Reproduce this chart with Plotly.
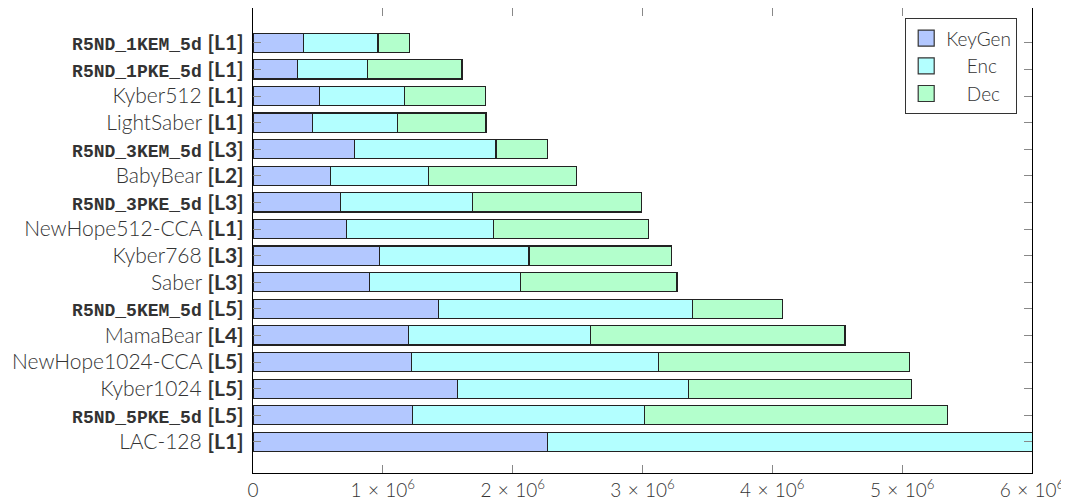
import plotly.graph_objects as go

names = ["R5ND_1KEM_5d", "R5ND_1PKE_5d", "Kyber512", "LightSaber", "R5ND_3KEM_5d",
         "BabyBear", "R5ND_3PKE_5d", "NewHope512-CCA", "Kyber768", "Saber",
         "R5ND_5KEM_5d", "MamaBear", "NewHope1024-CCA", "Kyber1024", "R5ND_5PKE_5d", "LAC-128"]
levels = ["L1", "L1", "L1", "L1", "L3", "L2", "L3", "L1", "L3", "L3",
          "L5", "L4", "L5", "L5", "L5", "L1"]
mono = [True, True, False, False, True, False, True, False, False, False,
        True, False, False, False, True, False]

# cumulative end points
keygen_end = [0.391e6, 0.340e6, 0.512e6, 0.458e6, 0.784e6, 0.595e6, 0.674e6, 0.720e6,
              0.977e6, 0.895e6, 1.429e6, 1.196e6, 1.221e6, 1.576e6, 1.229e6, 2.269e6]
enc_end = [0.962e6, 0.882e6, 1.167e6, 1.111e6, 1.871e6, 1.350e6, 1.689e6, 1.855e6,
           2.125e6, 2.061e6, 3.383e6, 2.600e6, 3.126e6, 3.357e6, 3.014e6, 6.600e6]
dec_end = [1.208e6, 1.609e6, 1.789e6, 1.794e6, 2.267e6, 2.492e6, 2.993e6, 3.049e6,
           3.222e6, 3.265e6, 4.077e6, 4.559e6, 5.058e6, 5.073e6, 5.350e6, 7.500e6]

keygen = keygen_end
enc = [e - k for e, k in zip(enc_end, keygen_end)]
dec = [d - e for d, e in zip(dec_end, enc_end)]

x_tickvals = [0, 1e6, 2e6, 3e6, 4e6, 5e6, 6e6]
x_ticktext = ["0"] + [f"{i}\u2004×\u200410<sup>6</sup>" for i in range(1, 7)]

ticktext = []
for n, l, m in zip(names, levels, mono):
    if m:
        t = (f'<span style="font-family:Liberation Mono;font-weight:bold;font-size:18px">{n}</span>'
             f' <span style="font-weight:bold">[{l}]</span>')
    else:
        t = f'{n} <span style="font-weight:bold">[{l}]</span>'
    ticktext.append(t)

ypos = list(range(len(names)))

fig = go.Figure()
series = [("KeyGen", keygen, "#b3c8ff"), ("Enc", enc, "#b3ffff"), ("Dec", dec, "#b3ffcc")]
legend_labels = ["KeyGen", "\u00a0\u00a0\u00a0\u00a0Enc", "\u00a0\u00a0\u00a0\u00a0Dec"]
for (nm, vals, col), lab in zip(series, legend_labels):
    fig.add_trace(go.Bar(
        x=vals, y=ypos, name=nm, orientation="h", width=0.72, showlegend=False,
        marker=dict(color=col, line=dict(color="#222222", width=1.2)),
    ))
    fig.add_trace(go.Scatter(
        x=[None], y=[None], mode="markers", name=lab, showlegend=True,
        marker=dict(symbol="square", size=16, color=col, line=dict(color="#333333", width=1.2)),
    ))

fig.update_layout(
    barmode="stack",
    width=1061, height=491,
    margin=dict(l=245, r=37, t=0, b=26, autoexpand=False),
    plot_bgcolor="white", paper_bgcolor="white",
    font=dict(family="Lato", size=20, color="#333333"),
    showlegend=True,
    legend=dict(
        x=0.981, y=0.978, xanchor="right", yanchor="top",
        bgcolor="white", bordercolor="#333333", borderwidth=1,
        font=dict(family="Lato", size=19, color="#333333", weight=300),
        traceorder="normal", itemwidth=30, tracegroupgap=0,
    ),
    xaxis=dict(
        range=[0, 6e6], tickvals=x_tickvals, ticktext=x_ticktext,
        showgrid=False, zeroline=False, showline=True, linecolor="black", linewidth=1.2,
        mirror="ticks", ticks="inside", ticklen=8, tickcolor="#888888",
        tickfont=dict(family="Lato", size=19, color="#333333", weight=300),
    ),
    yaxis=dict(
        range=[16.17, -1.31], tickvals=ypos, ticktext=ticktext,
        showgrid=False, zeroline=False, showline=True, linecolor="black", linewidth=1.2,
        mirror="ticks", ticks="inside", ticklen=8, tickcolor="#888888", ticklabelstandoff=4,
        tickfont=dict(family="Lato", size=21, color="#333333", weight=300),
    ),
)

fig.write_html("out.html")
